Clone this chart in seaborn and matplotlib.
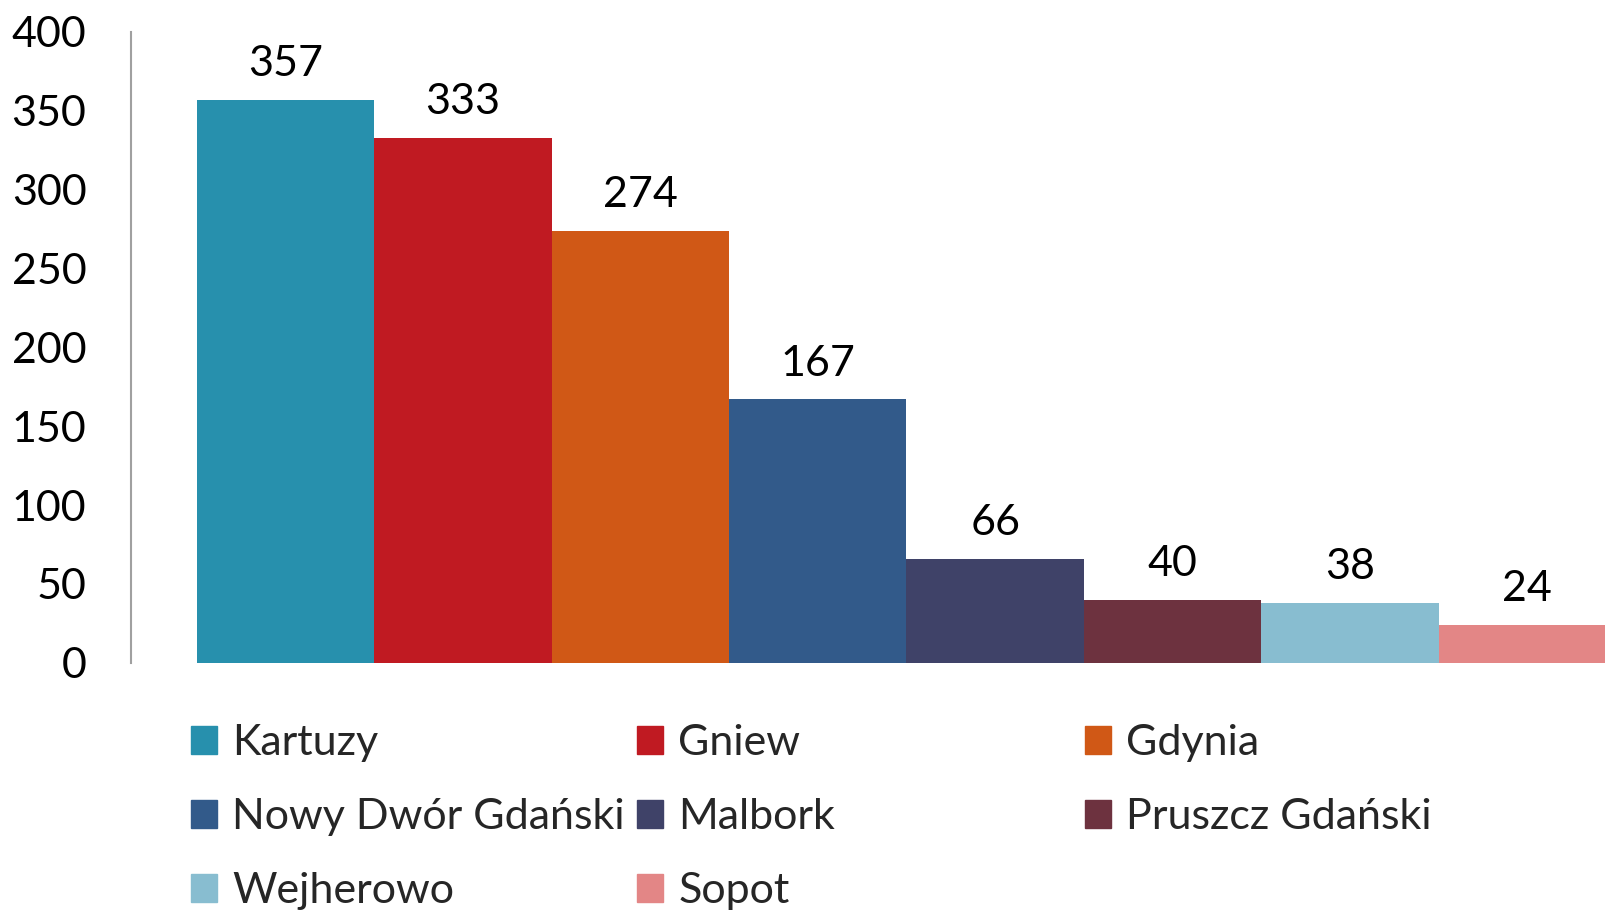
import matplotlib
matplotlib.use("Agg")
import matplotlib.pyplot as plt
import matplotlib.patches as mpatches
import seaborn as sns

cities = ["Kartuzy", "Gniew", "Gdynia", "Nowy Dwór Gdański", "Malbork",
          "Pruszcz Gdański", "Wejherowo", "Sopot"]
values = [357, 333, 274, 167, 66, 40, 38, 24]
colors = ["#2790ad", "#c01a22", "#d05816", "#325a8a", "#3f4268",
          "#6d323f", "#88bdd0", "#e38686"]
y_ticks = [0, 50, 100, 150, 200, 250, 300, 350, 400]

sns.set_theme(style="white")
plt.rcParams["font.family"] = ["Lato", "DejaVu Sans"]

fig = plt.figure(figsize=(16.05, 9.13), dpi=100)
ax = fig.add_axes([0.0816, 0.274, 1 - 0.0816, 0.691])

sns.barplot(x=cities, y=values, hue=cities, palette=colors, width=1.0,
            saturation=1, legend=False, ax=ax, linewidth=0)

for c in ax.containers:
    ax.bar_label(c, fontsize=31, padding=12, color="black")

ax.set_ylim(0, 400)
ax.set_xlim(-0.872, 7.438)
ax.set_yticks(y_ticks)
ax.set_xticks([])
ax.tick_params(axis="y", labelsize=31, length=0, pad=32, colors="black")
for s in ["top", "right", "bottom"]:
    ax.spines[s].set_visible(False)
ax.spines["left"].set_color("#a0a0a0")
ax.spines["left"].set_linewidth(1.5)

# legend: three columns placed like the original
handles = [mpatches.Patch(color=col, label=c) for c, col in zip(cities, colors)]
col_x = [0.119, 0.397, 0.676]
for j in range(3):
    hs = handles[j::3]
    fig.legend(handles=hs, loc="upper left", bbox_to_anchor=(col_x[j], 0.207),
               frameon=False, fontsize=31, borderpad=0, borderaxespad=0,
               handlelength=0.6, handleheight=0.6, handletextpad=0.35,
               labelspacing=0.84)

fig.savefig("out.png", dpi=100)
